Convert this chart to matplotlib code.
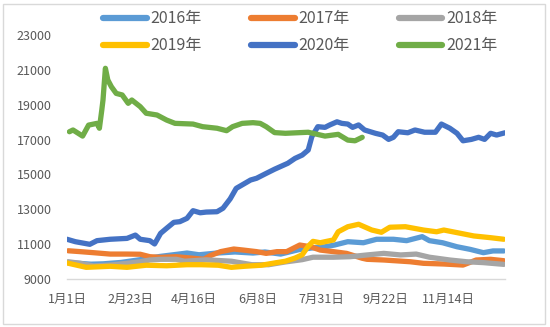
import matplotlib
matplotlib.use("Agg")
import matplotlib.pyplot as plt
from matplotlib.patches import Rectangle

plt.rcParams['font.family'] = ['Noto Sans CJK SC', 'DejaVu Sans']

# x 轴：一年中的第几天（0 = 1月1日）
tick_days = [0, 53, 106, 159, 212, 265, 318]
tick_labels = ["1月1日", "2月23日", "4月16日", "6月8日", "7月31日", "9月22日", "11月14日"]

d2016 = [0, 10, 20, 30, 45, 61, 78, 92, 100, 110, 125, 140, 155, 165, 178, 193, 204, 215,
         223, 234, 247, 258, 272, 283, 296, 302, 313, 325, 336, 347, 355, 364]
v2016 = [9950, 9900, 9850, 9870, 9950, 10110, 10300, 10420, 10490, 10390, 10490, 10550, 10490,
         10550, 10430, 10680, 10780, 10850, 10950, 11140, 11080, 11280, 11280, 11200, 11430,
         11200, 11080, 10850, 10700, 10510, 10610, 10610]

d2017 = [1, 11, 22, 36, 50, 61, 69, 78, 91, 105, 114, 119, 128, 139, 147, 158, 166, 175, 183,
         194, 203, 211, 222, 233, 246, 250, 264, 286, 297, 314, 330, 341, 353, 364]
v2017 = [10620, 10570, 10510, 10430, 10430, 10420, 10280, 10240, 10280, 10190, 10130, 10330,
         10570, 10720, 10660, 10570, 10470, 10570, 10570, 10950, 10850, 10660, 10570, 10470,
         10190, 10130, 10090, 9990, 9900, 9860, 9800, 10090, 10130, 10050]

d2018 = [1, 11, 22, 36, 50, 61, 69, 78, 91, 98, 105, 116, 137, 154, 168, 182, 196, 205, 222,
         236, 250, 264, 278, 291, 302, 319, 333, 347, 364]
v2018 = [9990, 9900, 9750, 9800, 9900, 9990, 10090, 10130, 10130, 10020, 10050, 10100, 10020,
         9820, 9820, 9980, 10110, 10250, 10250, 10280, 10380, 10470, 10380, 10430, 10250,
         10090, 9990, 9940, 9840]

d2019 = [0, 16, 36, 50, 66, 83, 100, 112, 126, 137, 148, 162, 173, 182, 190, 196, 201, 205,
         211, 215, 222, 226, 234, 243, 254, 262, 269, 282, 297, 308, 314, 328, 339, 353, 364]
v2019 = [9920, 9670, 9730, 9670, 9790, 9760, 9820, 9820, 9790, 9670, 9730, 9790, 9920, 10020,
         10200, 10390, 10880, 11160, 11080, 11140, 11240, 11710, 12000, 12140, 11810, 11680,
         11970, 12000, 11810, 11710, 11810, 11620, 11470, 11370, 11280]

d2020 = [0, 7, 19, 25, 36, 50, 57, 61, 69, 73, 78, 83, 89, 94, 100, 105, 111, 116, 125, 130,
         136, 141, 153, 158, 166, 173, 184, 190, 196, 201, 204, 209, 215, 219, 225, 229, 234,
         238, 243, 248, 257, 263, 268, 272, 276, 284, 290, 298, 307, 312, 319, 325, 330, 337,
         343, 348, 353, 358, 365]
v2020 = [11280, 11140, 10990, 11200, 11280, 11330, 11520, 11280, 11200, 11010, 11620, 11910,
         12250, 12290, 12480, 12920, 12800, 12840, 12860, 13060, 13600, 14200, 14680, 14780,
         15060, 15300, 15640, 15920, 16110, 16400, 17160, 17740, 17700, 17840, 18020, 17930,
         17890, 17700, 17840, 17550, 17360, 17260, 17010, 17130, 17450, 17390, 17550, 17420,
         17420, 17890, 17650, 17360, 16930, 17010, 17130, 17010, 17360, 17260, 17390]

d2021 = [2, 5, 13, 18, 25, 27, 29, 30, 32, 34, 37, 41, 46, 51, 54, 61, 66, 75, 83, 90, 105,
         113, 125, 133, 138, 146, 155, 161, 166, 173, 182, 201, 215, 226, 234, 240, 246]
v2021 = [17450, 17550, 17200, 17830, 17930, 17650, 18700, 19270, 21090, 20420, 20030, 19650,
         19560, 19080, 19270, 18890, 18510, 18410, 18120, 17930, 17890, 17740, 17650, 17510,
         17740, 17930, 17970, 17930, 17740, 17400, 17360, 17420, 17200, 17300, 16970, 16930,
         17130]

series = [
    ("2016年", d2016, v2016, "#5B9BD5"),
    ("2017年", d2017, v2017, "#ED7D31"),
    ("2018年", d2018, v2018, "#A5A5A5"),
    ("2019年", d2019, v2019, "#FFC000"),
    ("2020年", d2020, v2020, "#4472C4"),
    ("2021年", d2021, v2021, "#70AD47"),
]

fig = plt.figure(figsize=(5.5, 3.27), dpi=100)
ax = fig.add_axes([67 / 550, 1 - 279 / 327, 438 / 550, 244 / 327])

lines = {}
for name, d, v, c in series:
    ln, = ax.plot(d, v, color=c, lw=3.8, solid_capstyle='round', solid_joinstyle='round', label=name)
    lines[name] = ln

ax.set_xlim(0, 365)
ax.set_ylim(9000, 23000)
ax.set_yticks(range(9000, 23001, 2000))
ax.set_xticks(tick_days)
ax.set_xticklabels(tick_labels)
ax.tick_params(axis='both', length=0, labelsize=9, colors='#595959')
ax.tick_params(axis='x', pad=10)
ax.tick_params(axis='y', pad=11)
for s in ['top', 'right', 'left']:
    ax.spines[s].set_visible(False)
ax.spines['bottom'].set_color('#D9D9D9')
ax.spines['bottom'].set_linewidth(1.0)

order = ["2016年", "2019年", "2017年", "2020年", "2018年", "2021年"]
leg = fig.legend([lines[n] for n in order], order, ncol=3, loc='upper left',
                 bbox_to_anchor=(93 / 550, 1.0), frameon=False, fontsize=11.5,
                 handlelength=2.7, handletextpad=0.25, columnspacing=3.1, labelspacing=0.62,
                 borderpad=0.15)
for t in leg.get_texts():
    t.set_color('#595959')
for h in leg.legend_handles:
    h.set_linewidth(4.5)

fig.patches.append(Rectangle((3 / 550, 3 / 327), 542 / 550, 320 / 327, transform=fig.transFigure,
                             fill=False, edgecolor='#D9D9D9', lw=1.0))

fig.savefig("out.png", dpi=100)
